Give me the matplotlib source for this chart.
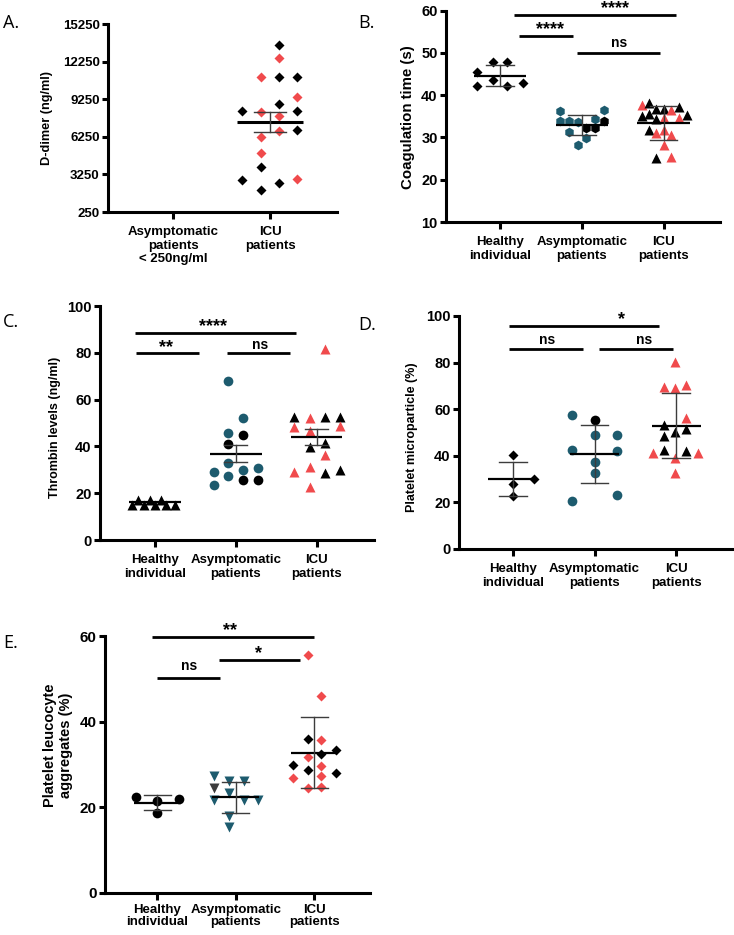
import numpy as np
import matplotlib
matplotlib.use('Agg')
import matplotlib.pyplot as plt

plt.rcParams['font.family'] = ['Liberation Sans', 'DejaVu Sans']
plt.rcParams['font.weight'] = 'bold'

W, H = 734, 935
TEAL = '#1d5b6e'
RED = '#f04a4c'
GREY = '#3c3c3c'
CMAP = {'k': 'black', 'r': RED, 't': TEAL, 'g': GREY}

# ---------------- data ----------------
# A. D-dimer, ICU patients only (asymptomatic < 250 ng/ml)
a_cats = ['Asymptomatic\npatients\n< 250ng/ml', 'ICU\npatients']
a_icu = [13570, 12560, 11040, 11040, 11040, 9390, 8830, 8320, 8240, 8320,
         7920, 6700, 6780, 6240, 4965, 3850, 2780, 2910, 2570, 2035]
a_icu_col = 'krrkkrkkrkrrkrrkkrkk'
a_icu_dx = [0.086, 0.086, -0.096, 0.086, 0.276, 0.276, 0.086, -0.286, -0.096, 0.276,
            0.086, 0.086, 0.276, -0.096, -0.096, -0.096, -0.286, 0.276, 0.086, -0.096]
a_mean, a_err = 7443, 800
a_ticks = [250, 3250, 6250, 9250, 12250, 15250]

cats3 = ['Healthy\nindividual', 'Asymptomatic\npatients', 'ICU\npatients']

# B. Coagulation time
b_healthy = [45.5, 47.9, 47.9, 42.2, 43.6, 42.2, 43.0]
b_healthy_dx = [-0.28, -0.09, 0.09, -0.28, -0.09, 0.09, 0.28]
b_asym = [36.3, 36.5, 33.9, 33.9, 33.6, 34.4, 32.2, 32.2, 33.9, 31.3, 29.8, 28.3]
b_asym_col = 'ttttttkkkttt'
b_asym_dx = [-0.27, 0.27, -0.27, -0.16, -0.05, 0.16, 0.05, 0.16, 0.27, -0.16, 0.05, -0.05]
b_icu = [37.8, 38.1, 36.8, 36.8, 36.5, 37.3, 35.4, 35.2, 35.5, 34.4,
         34.6, 34.6, 31.8, 31.0, 31.8, 30.6, 28.3, 25.1, 25.3]
b_icu_col = 'rkkkrkkkkkrrkrrrrkr'
b_icu_dx = [-0.265, -0.18, -0.09, 0, 0.09, 0.19, 0.29, -0.265, -0.18, -0.09,
            0, 0.19, -0.18, -0.09, 0, 0.09, 0, -0.09, 0.09]
b_mean = [44.6, 33.0, 33.5]
b_err = [2.45, 2.4, 4.05]

# C. Thrombin levels
c_healthy = [15.0, 17.3, 15.0, 17.3, 15.0, 17.3, 15.0, 15.0]
c_healthy_dx = [-0.29, -0.21, -0.14, -0.06, 0, 0.08, 0.14, 0.25]
c_asym = [68.1, 52.0, 45.9, 44.9, 41.0, 32.8, 29.2, 29.9, 30.9, 27.5, 23.5, 25.6, 25.6]
c_asym_col = 'tttkkttttttkkt'
c_asym_dx = [-0.095, 0.09, -0.095, 0.09, -0.095, -0.095, -0.27, 0.09, 0.28, -0.095, -0.27, 0.09, 0.28]
c_icu = [81.5, 52.7, 52.0, 52.7, 52.7, 48.1, 46.7, 48.7, 39.9, 41.3, 36.3, 29.2, 31.1, 28.5, 29.9, 22.5]
c_icu_col = 'rkrkkrrrkkrrrkkr'
c_icu_dx = [0.10, -0.28, -0.08, 0.10, 0.29, -0.28, -0.08, 0.29, -0.08, 0.10, 0.10, -0.28, -0.08, 0.10, 0.29, -0.08]
c_mean = [16.1, 36.8, 43.9]
c_err = [0.0, 3.6, 3.5]

# D. Platelet microparticle
d_healthy = [40.4, 30.1, 28.0, 22.6]
d_healthy_dx = [0, 0.26, 0, 0]
d_asym = [57.6, 55.4, 49.0, 49.0, 42.3, 41.9, 37.3, 32.6, 23.0, 20.7]
d_asym_col = 'tktttttttt'
d_asym_dx = [-0.27, 0, 0, 0.27, -0.27, 0.27, 0, 0, 0.27, -0.27]
d_icu = [80.4, 69.4, 69.0, 70.4, 56.1, 53.3, 48.3, 50.0, 51.4, 41.4, 42.6, 41.9, 41.4, 39.0, 32.6]
d_icu_col = 'rrrrrkkkkrkkrrr'
d_icu_dx = [-0.02, -0.155, -0.02, 0.12, 0.12, -0.155, -0.155, -0.02, 0.12, -0.29, -0.155, 0.12, 0.27, -0.02, -0.02]
d_mean = [30.1, 40.9, 52.9]
d_err = [7.35, 12.5, 14.0]

# E. Platelet leucocyte aggregates
e_healthy = [22.5, 21.4, 22.0, 18.6]
e_healthy_dx = [-0.27, 0, 0.275, 0]
e_asym = [27.4, 26.2, 26.2, 24.6, 23.3, 21.7, 21.7, 21.7, 17.9, 15.5]
e_asym_col = 'tttgtttttt'
e_asym_dx = [-0.275, -0.09, 0.10, -0.275, -0.09, -0.275, 0.10, 0.28, -0.09, -0.09]
e_icu = [55.5, 46.0, 35.9, 35.7, 33.5, 31.8, 32.5, 30.0, 29.7, 28.6, 28.1, 26.8, 27.4, 24.5, 24.7]
e_icu_col = 'rrkrkrkkrkkrrrr'
e_icu_dx = [-0.075, 0.09, -0.075, 0.09, 0.28, -0.075, 0.09, -0.27, 0.09, -0.075, 0.28, -0.27, 0.09, -0.075, 0.09]
e_mean = [21.1, 22.3, 32.8]
e_err = [1.8, 3.65, 8.25]


def make_ax(fig, left, right, bottom, top):
    # pixel box -> figure fractions
    ax = fig.add_axes([left / W, 1 - bottom / H, (right - left) / W, (bottom - top) / H])
    for s in ['top', 'right']:
        ax.spines[s].set_visible(False)
    for s in ['left', 'bottom']:
        ax.spines[s].set_linewidth(2.2)
    ax.tick_params(axis='both', width=2.2, length=4, labelsize=9.5, pad=2)
    ax.tick_params(axis='x', length=5, pad=5, labelsize=9.5)
    return ax


def points(ax, i, vals, dx, cols, marker, ms):
    for v, d, c in zip(vals, dx, cols):
        ax.plot(i + d, v, marker=marker, color=CMAP[c], ms=ms, mec='none', ls='none', zorder=2)


def mean_bar(ax, i, m, e, hw=0.32, cw=0.17, mlw=1.6):
    ax.plot([i - hw, i + hw], [m, m], color='black', lw=mlw, zorder=3, solid_capstyle='butt')
    if e > 0:
        ax.plot([i, i], [m - e, m + e], color=GREY, lw=1.0, zorder=3)
        ax.plot([i - cw, i + cw], [m + e, m + e], color=GREY, lw=1.0, zorder=3)
        ax.plot([i - cw, i + cw], [m - e, m - e], color=GREY, lw=1.0, zorder=3)


def sig(ax, x0, x1, y, txt, tx, ty):
    # stars drawn bigger than 'ns', as in the original
    fs = 10 if txt == 'ns' else 13
    ax.plot([x0, x1], [y, y], color='black', lw=2.0, clip_on=False, solid_capstyle='butt')
    ax.text(tx, ty, txt, ha='center', va='center', fontsize=fs, fontweight='bold', clip_on=False)


fig = plt.figure(figsize=(W / 100, H / 100), dpi=100)

# ---- A ----
ax = make_ax(fig, 108, 337, 212, 24)
points(ax, 1, a_icu, a_icu_dx, a_icu_col, 'D', 5.0)
mean_bar(ax, 1, a_mean, a_err, hw=0.34, cw=0.165, mlw=2.2)
ax.set_xlim(-0.675, 1.69)
ax.set_ylim(250, 15250)
ax.set_yticks(a_ticks)
ax.set_xticks([0, 1])
ax.set_xticklabels(a_cats, fontsize=9.5)
fig.text(47 / W, 1 - 118 / H, 'D-dimer (ng/ml)', rotation=90, ha='center', va='center', fontsize=9.2)

# ---- B ----
ax = make_ax(fig, 446, 720, 222, 10.7)
points(ax, 0, b_healthy, b_healthy_dx, 'k' * 7, 'D', 5.0)
points(ax, 1, b_asym, b_asym_dx, b_asym_col, 'h', 7.0)
points(ax, 2, b_icu, b_icu_dx, b_icu_col, '^', 7.0)
for i in range(3):
    mean_bar(ax, i, b_mean[i], b_err[i])
ax.set_xlim(-0.66, 2.69)
ax.set_ylim(10, 60)
ax.set_yticks([10, 20, 30, 40, 50, 60])
ax.set_xticks([0, 1, 2])
ax.set_xticklabels(cats3, fontsize=9.5)
ax.tick_params(axis='y', labelsize=10.5)
sig(ax, 0.17, 2.15, 59.0, '****', 1.41, 60.4)
sig(ax, 0.23, 0.89, 53.9, '****', 0.61, 55.5)
sig(ax, 0.94, 1.96, 50.1, 'ns', 1.46, 52.3)
fig.text(408 / W, 1 - 117 / H, 'Coagulation time (s)', rotation=90, ha='center', va='center', fontsize=10.8)

# ---- C ----
ax = make_ax(fig, 100, 374, 540, 306)
points(ax, 0, c_healthy, c_healthy_dx, 'k' * 8, '^', 7.0)
points(ax, 1, c_asym, c_asym_dx, c_asym_col, 'o', 7.0)
points(ax, 2, c_icu, c_icu_dx, c_icu_col, '^', 7.0)
for i in range(3):
    mean_bar(ax, i, c_mean[i], c_err[i], cw=0.14)
ax.set_xlim(-0.68, 2.71)
ax.set_ylim(0, 100)
ax.set_yticks([0, 20, 40, 60, 80, 100])
ax.set_xticks([0, 1, 2])
ax.set_xticklabels(cats3, fontsize=9.5)
ax.tick_params(axis='y', labelsize=10.5)
sig(ax, -0.25, 1.745, 88.3, '****', 0.72, 91.0)
sig(ax, -0.23, 0.55, 79.8, '**', 0.14, 82.3)
sig(ax, 0.89, 1.67, 79.8, 'ns', 1.3, 83.3)
fig.text(55 / W, 1 - 427 / H, 'Thrombin levels (ng/ml)', rotation=90, ha='center', va='center', fontsize=9.0)

# ---- D ----
ax = make_ax(fig, 459, 732, 549, 316)
points(ax, 0, d_healthy, d_healthy_dx, 'kkkk', 'D', 5.0)
points(ax, 1, d_asym, d_asym_dx, d_asym_col, 'o', 7.0)
points(ax, 2, d_icu, d_icu_dx, d_icu_col, '^', 7.0)
for i in range(3):
    mean_bar(ax, i, d_mean[i], d_err[i], hw=0.3)
ax.set_xlim(-0.657, 2.68)
ax.set_ylim(0, 100)
ax.set_yticks([0, 20, 40, 60, 80, 100])
ax.set_xticks([0, 1, 2])
ax.set_xticklabels(cats3, fontsize=9.5)
ax.tick_params(axis='y', labelsize=10.5)
sig(ax, -0.04, 1.79, 95.7, '*', 1.33, 98.4)
sig(ax, -0.04, 0.86, 85.7, 'ns', 0.42, 89.5)
sig(ax, 1.06, 1.96, 85.7, 'ns', 1.6, 89.5)
fig.text(412 / W, 1 - 437 / H, 'Platelet microparticle (%)', rotation=90, ha='center', va='center', fontsize=9.0)

# ---- E ----
ax = make_ax(fig, 105, 370, 893, 636)
points(ax, 0, e_healthy, e_healthy_dx, 'kkkk', 'o', 7.0)
points(ax, 1, e_asym, e_asym_dx, e_asym_col, 'v', 7.0)
points(ax, 2, e_icu, e_icu_dx, e_icu_col, 'D', 5.0)
for i in range(3):
    mean_bar(ax, i, e_mean[i], e_err[i], hw=0.3)
ax.set_xlim(-0.667, 2.71)
ax.set_ylim(0, 60)
ax.set_yticks([0, 20, 40, 60])
ax.set_xticks([0, 1, 2])
ax.set_xticklabels(cats3, fontsize=9.5, linespacing=1.0)
ax.tick_params(axis='x', pad=3)
ax.tick_params(axis='y', labelsize=11)
sig(ax, -0.07, 2.0, 59.8, '**', 0.93, 61.3)
sig(ax, 0.78, 1.82, 54.5, '*', 1.29, 55.8)
sig(ax, 0.0, 0.8, 50.3, 'ns', 0.4, 53.0)
fig.text(58 / W, 1 - 745 / H, 'Platelet leucocyte\naggregates (%)', rotation=90, ha='center', va='center',
         fontsize=10.5, linespacing=1.1)

# panel letters
for lab, x, y in [('A.', 3, 23), ('B.', 358, 23), ('C.', 3, 322), ('D.', 358, 325), ('E.', 3, 643)]:
    fig.text(x / W, 1 - y / H, lab, fontsize=13, fontweight='normal', family='Open Sans', va='center')

fig.savefig('out.png', dpi=100)
